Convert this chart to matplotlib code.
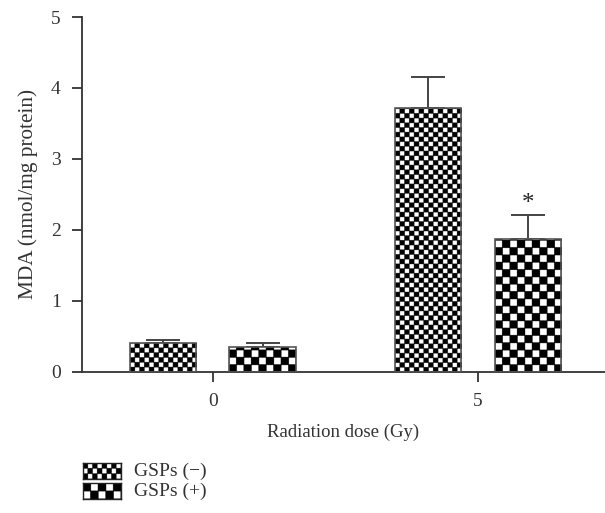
import numpy as np
import matplotlib
matplotlib.use("Agg")
import matplotlib.pyplot as plt

plt.rcParams["font.family"] = ["Liberation Serif", "DejaVu Serif"]

doses = ["0", "5"]
gsp_minus = [0.41, 3.72]
gsp_minus_err = [0.04, 0.43]
gsp_plus = [0.35, 1.87]
gsp_plus_err = [0.05, 0.34]
series_labels = ["GSPs (\u2212)", "GSPs (+)"]
star_marks = ["", "*"]

FINE = 4.7    # checker cell, pixels
COARSE = 7.3
SUB = 20      # subsamples per cell


def checker(nx, ny):
    # white cells slightly smaller than black ones, like the printed pattern
    i = np.arange(ny * SUB)
    j = np.arange(nx * SUB)
    ci, oi = i // SUB, i % SUB
    cj, oj = j // SUB, j % SUB
    white = (np.add.outer(ci, cj) % 2 == 1)
    inner = np.outer((oi >= 1) & (oi < SUB - 1), (oj >= 1) & (oj < SUB - 1))
    return (white & inner).astype(float)


def fill_checker(ax, bar, cell):
    x0, y0 = bar.get_x(), bar.get_y()
    w, h = bar.get_width(), bar.get_height()
    p0 = ax.transData.transform((x0, y0))
    p1 = ax.transData.transform((x0 + w, y0 + h))
    px_w, px_h = p1[0] - p0[0], p1[1] - p0[1]
    nx = max(1, int(round(px_w / cell)))
    ny = int(np.ceil(px_h / cell))
    top = y0 + ny * cell * h / px_h
    img = ax.imshow(checker(nx, ny), cmap="gray", vmin=0, vmax=1,
                    extent=(x0, x0 + w, y0, top), origin="lower",
                    interpolation="antialiased", aspect="auto", zorder=2)
    img.set_clip_path(bar)


fig = plt.figure(figsize=(6.05, 5.13), dpi=100)
ax = fig.add_axes([0.135, 0.2754, 0.865, 0.6914])
ax.set_xlim(-0.495, 1.479)
ax.set_ylim(0, 5)

x = np.arange(len(doses))
off = 0.1875
width = 0.25
err_kw = dict(ecolor="#444444", elinewidth=1.4, capsize=12.5, capthick=1.4)

b1 = ax.bar(x - off, gsp_minus, width, edgecolor="#555555",
            linewidth=1.2, zorder=3, fill=False)
b2 = ax.bar(x + off, gsp_plus, width, edgecolor="#555555",
            linewidth=1.2, zorder=3, fill=False)
ax.errorbar(x - off, gsp_minus, yerr=[np.zeros(2), gsp_minus_err], fmt="none", zorder=1, **err_kw)
ax.errorbar(x + off, gsp_plus, yerr=[np.zeros(2), gsp_plus_err], fmt="none", zorder=1, **err_kw)

fig.canvas.draw()
for bar in b1:
    fill_checker(ax, bar, FINE)
for bar in b2:
    fill_checker(ax, bar, COARSE)
ax.set_xlim(-0.495, 1.479)
ax.set_ylim(0, 5)

for i, s in enumerate(star_marks):
    if s:
        ax.text(x[i] + off, gsp_plus[i] + gsp_plus_err[i], s,
                ha="center", va="bottom", fontsize=18, color="#222222")

for side in ["top", "right"]:
    ax.spines[side].set_visible(False)
for side in ["left", "bottom"]:
    ax.spines[side].set_color("#333333")
    ax.spines[side].set_linewidth(1.3)

ax.set_xticks(x)
ax.set_xticklabels(doses)
ax.set_yticks(range(6))
ax.tick_params(axis="both", direction="out", length=7, width=1.3,
               color="#333333", labelsize=14, labelcolor="#333333")
ax.tick_params(axis="x", pad=8)
ax.tick_params(axis="y", pad=8)
ax.set_xlabel("Radiation dose (Gy)", fontsize=13.5, color="#333333", labelpad=10)
ax.set_ylabel("MDA (nmol/mg protein)", fontsize=15.3, color="#333333", labelpad=9)

# legend swatches
for k, (label, cell) in enumerate(zip(series_labels, [FINE, COARSE])):
    top_px = 463 + k * 20
    lax = fig.add_axes([83 / 605, (513 - top_px - 16) / 513, 38 / 605, 16 / 513])
    nx = int(round(38 / cell))
    ny = int(round(16 / cell))
    lax.imshow(checker(nx, ny), cmap="gray", vmin=0, vmax=1,
               interpolation="antialiased", aspect="auto")
    lax.set_xticks([])
    lax.set_yticks([])
    for sp in lax.spines.values():
        sp.set_color("#222222")
        sp.set_linewidth(1.0)
    fig.text(134 / 605, (513 - top_px - 8) / 513, label, ha="left", va="center",
             fontsize=14, color="#333333")

fig.savefig("out.png", dpi=100)
